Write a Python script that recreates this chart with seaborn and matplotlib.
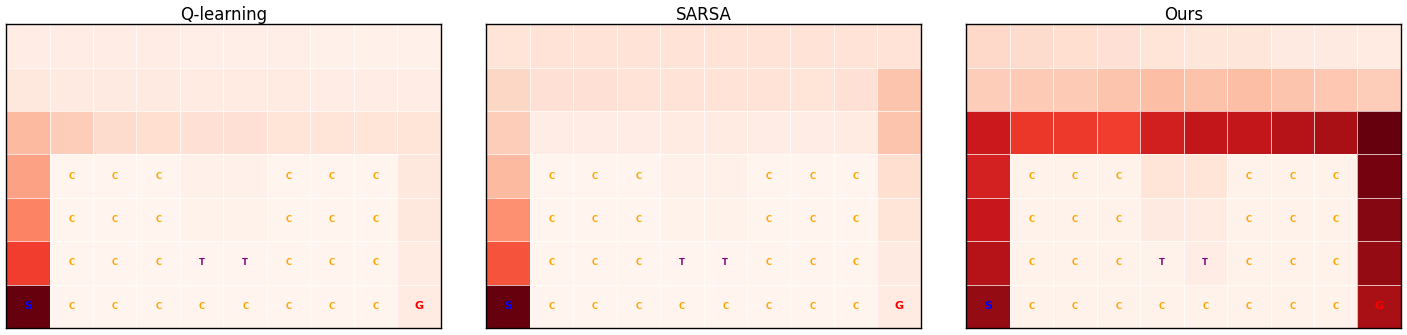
import numpy as np
import seaborn as sns
import matplotlib.pyplot as plt

# Visit frequency per grid cell (row 0 = top), normalised per method
q_learning = [
    [0.05, 0.05, 0.05, 0.05, 0.04, 0.04, 0.04, 0.03, 0.03, 0.03],
    [0.08, 0.07, 0.07, 0.07, 0.06, 0.06, 0.06, 0.05, 0.05, 0.05],
    [0.25, 0.19, 0.14, 0.13, 0.12, 0.12, 0.10, 0.10, 0.10, 0.10],
    [0.33, 0.01, 0.01, 0.01, 0.03, 0.03, 0.01, 0.01, 0.01, 0.08],
    [0.42, 0.01, 0.01, 0.01, 0.02, 0.02, 0.01, 0.01, 0.01, 0.08],
    [0.62, 0.01, 0.01, 0.01, 0.01, 0.01, 0.01, 0.01, 0.01, 0.06],
    [1.00, 0.01, 0.01, 0.01, 0.01, 0.01, 0.01, 0.01, 0.01, 0.06],
]
sarsa = [
    [0.10, 0.11, 0.11, 0.11, 0.11, 0.11, 0.11, 0.11, 0.11, 0.11],
    [0.16, 0.12, 0.12, 0.11, 0.11, 0.11, 0.11, 0.10, 0.12, 0.22],
    [0.19, 0.05, 0.05, 0.05, 0.06, 0.06, 0.05, 0.05, 0.06, 0.22],
    [0.25, 0.01, 0.01, 0.01, 0.03, 0.03, 0.01, 0.01, 0.01, 0.13],
    [0.38, 0.01, 0.01, 0.01, 0.02, 0.02, 0.01, 0.01, 0.01, 0.10],
    [0.56, 0.01, 0.01, 0.01, 0.01, 0.01, 0.01, 0.01, 0.01, 0.07],
    [1.00, 0.01, 0.01, 0.01, 0.01, 0.01, 0.01, 0.01, 0.01, 0.06],
]
ours = [
    [0.15, 0.14, 0.13, 0.12, 0.10, 0.09, 0.09, 0.07, 0.07, 0.06],
    [0.19, 0.20, 0.20, 0.22, 0.24, 0.23, 0.24, 0.22, 0.21, 0.19],
    [0.75, 0.64, 0.63, 0.62, 0.73, 0.78, 0.78, 0.82, 0.86, 1.00],
    [0.72, 0.02, 0.02, 0.02, 0.10, 0.10, 0.02, 0.02, 0.02, 0.97],
    [0.76, 0.02, 0.02, 0.02, 0.07, 0.06, 0.02, 0.02, 0.02, 0.94],
    [0.82, 0.02, 0.02, 0.02, 0.02, 0.05, 0.02, 0.02, 0.02, 0.91],
    [0.91, 0.02, 0.02, 0.02, 0.02, 0.02, 0.02, 0.02, 0.02, 0.86],
]
titles = ['Q-learning', 'SARSA', 'Ours']

# cell labels: S start, G goal, C cliff, T trap
cell_labels = [
    [''] * 10,
    [''] * 10,
    [''] * 10,
    ['', 'C', 'C', 'C', '', '', 'C', 'C', 'C', ''],
    ['', 'C', 'C', 'C', '', '', 'C', 'C', 'C', ''],
    ['', 'C', 'C', 'C', 'T', 'T', 'C', 'C', 'C', ''],
    ['S', 'C', 'C', 'C', 'C', 'C', 'C', 'C', 'C', 'G'],
]
label_colors = {'C': 'orange', 'T': 'purple', 'S': 'blue', 'G': 'red'}
label_sizes = {'C': 6, 'T': 6, 'S': 8, 'G': 8}

fig, axes = plt.subplots(1, 3, figsize=(14.07, 3.35), dpi=100)
plt.subplots_adjust(left=0.0043, right=0.9957, bottom=0.021, top=0.928, wspace=0.104)

for ax, data, title in zip(axes, [q_learning, sarsa, ours], titles):
    sns.heatmap(np.array(data), ax=ax, cmap='Reds', vmin=0, vmax=1, cbar=False,
                linewidths=0.5, linecolor=(1, 1, 1, 0.7), annot=np.array(cell_labels), fmt='',
                annot_kws={'fontweight': 'bold'}, xticklabels=False, yticklabels=False)
    for t in ax.texts:
        s = t.get_text()
        if s in label_colors:
            t.set_color(label_colors[s])
            t.set_fontsize(label_sizes[s])
    for sp in ax.spines.values():
        sp.set_visible(True)
        sp.set_color('black')
        sp.set_linewidth(1)
    ax.set_title(title, fontsize=12, pad=3)
    ax.tick_params(left=False, bottom=False)

plt.savefig('out.png', dpi=100)
